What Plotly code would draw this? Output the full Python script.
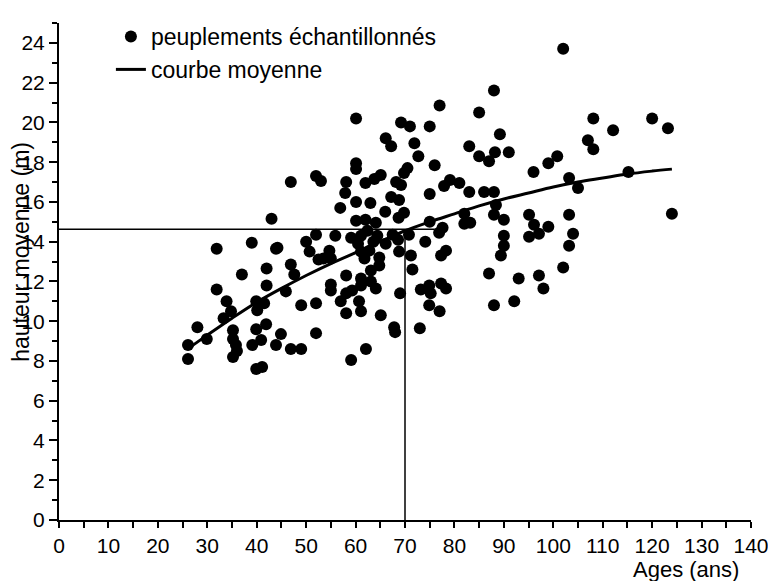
import plotly.graph_objects as go

# sampled stands: age (years) and mean height (m)
ages = [
    26.1, 26.1, 28.0, 29.9, 31.9, 31.9, 33.9, 33.3, 34.8, 35.2, 35.2, 35.8, 36.0, 35.2, 37.0,
    39.0, 39.1, 39.9, 40.1, 39.9, 39.9, 41.1, 41.5, 41.9, 40.9, 42.0, 42.0, 43.0, 43.9, 43.9,
    44.9, 45.9, 46.9, 47.6, 49.0, 52.0, 52.0, 46.9, 49.0, 46.9,
    44.2, 50.0, 50.7, 52.0, 52.5, 53.5, 54.7, 55.0, 55.9, 52.0, 53.0, 55.0, 55.0, 56.9,
    58.1, 61.1, 63.1, 61.8, 64.8, 64.8, 63.1, 64.1, 58.1, 57.0, 58.1, 60.7, 61.1, 59.3,
    65.1, 67.8, 68.0, 69.0, 59.1, 62.1, 71.2, 71.5, 61.1,
    60.1, 69.2, 71.0, 66.1, 67.2, 71.9, 60.1, 60.1, 72.7, 70.5, 69.8, 58.1, 57.9, 62.0,
    63.8, 65.1, 68.2, 69.2, 67.2, 68.8, 60.1, 63.0, 66.0, 69.8, 68.7, 60.1, 62.0, 64.1,
    61.1, 62.4, 64.4,
    59.1, 60.5, 61.1, 62.8, 63.6, 66.1, 67.5, 68.6, 68.8,
    77.0, 75.0, 76.0, 77.9, 79.1, 81.0, 83.0, 86.0, 88.0, 75.0, 88.4, 88.0, 82.0, 83.2,
    82.0, 90.0, 95.1, 96.1, 99.0, 95.1, 97.1, 75.0, 77.6, 76.9, 70.8, 74.1, 90.0, 90.0,
    89.4, 77.3, 78.3,
    87.0, 93.0, 97.1, 98.0, 88.0, 92.1, 73.2, 74.9, 75.2, 77.3, 78.3, 74.9, 77.0, 73.0,
    88.0, 85.0, 89.2, 83.0, 85.0, 87.0, 88.2, 91.0, 100.8, 99.0, 96.0,
    102.0, 108.1, 112.1, 120.0, 123.2, 107.0, 108.1, 103.2, 105.0, 115.2, 124.0, 103.2,
    104.0, 103.2, 102.0,
]
heights = [
    8.8, 8.1, 9.7, 9.1, 13.65, 11.6, 11.0, 10.15, 10.5, 9.55, 9.1, 8.8, 8.5, 8.2, 12.35,
    13.95, 8.8, 11.0, 10.55, 9.6, 7.6, 7.7, 10.9, 9.85, 9.05, 12.65, 11.8, 15.15, 13.65, 8.8,
    9.35, 11.5, 12.85, 12.35, 10.8, 10.9, 9.4, 8.6, 8.6, 17.0,
    13.7, 14.0, 13.5, 14.35, 13.1, 13.15, 13.55, 13.15, 14.3, 17.3, 17.05, 11.85, 11.55, 15.7,
    12.3, 12.15, 12.55, 13.15, 13.2, 12.8, 12.0, 11.65, 11.4, 11.0, 10.4, 11.0, 10.5, 11.55,
    10.3, 9.7, 9.45, 11.4, 8.05, 8.6, 13.3, 12.6, 11.8,
    20.2, 20.0, 19.8, 19.2, 18.8, 18.95, 17.95, 17.65, 18.3, 17.7, 17.45, 17.0, 16.45, 16.95,
    17.15, 17.35, 17.0, 16.85, 16.25, 16.1, 16.0, 15.95, 15.5, 15.45, 15.2, 15.05, 15.1, 14.95,
    14.3, 14.55, 14.3,
    14.2, 13.9, 13.5, 13.55, 14.0, 13.9, 14.35, 14.1, 13.5,
    20.85, 19.8, 17.85, 16.8, 17.1, 16.95, 16.5, 16.5, 16.5, 16.4, 15.85, 15.35, 15.4, 14.95,
    14.9, 15.1, 15.35, 14.85, 14.75, 14.25, 14.4, 15.0, 14.7, 14.45, 14.35, 14.0, 14.3, 13.8,
    13.3, 13.3, 13.55,
    12.4, 12.15, 12.3, 11.65, 10.8, 11.0, 11.6, 11.8, 11.4, 11.9, 11.65, 10.8, 10.5, 9.65,
    21.6, 20.5, 19.4, 18.8, 18.3, 18.05, 18.5, 18.5, 18.3, 17.95, 17.5,
    23.7, 20.2, 19.6, 20.2, 19.7, 19.1, 18.65, 17.2, 16.7, 17.5, 15.4, 15.35,
    14.4, 13.8, 12.7,
]

# mean curve
curve_ages = [26, 30, 35, 40, 45, 50, 55, 60, 65, 70, 75, 80, 85, 90, 95, 100, 105, 110, 115, 120, 124]
curve_heights = [8.6, 9.3, 10.15, 10.95, 11.65, 12.3, 12.9, 13.45, 14.0, 14.55, 15.0, 15.4,
                 15.8, 16.15, 16.45, 16.75, 17.0, 17.2, 17.4, 17.55, 17.65]

# reading lines
ref_age = 70
ref_height = 14.62
ref_line_end = 76

FONT = "Liberation Sans, Arial, sans-serif"

fig = go.Figure()
fig.add_trace(go.Scatter(
    x=ages, y=heights, mode="markers", name="peuplements échantillonnés",
    marker=dict(color="black", size=12, line=dict(width=0)),
))
fig.add_trace(go.Scatter(
    x=curve_ages, y=curve_heights, mode="lines", name="courbe moyenne",
    line=dict(color="black", width=3, shape="spline"),
))
fig.add_trace(go.Scatter(
    x=[0, ref_line_end], y=[ref_height, ref_height], mode="lines", showlegend=False,
    line=dict(color="black", width=1.5), hoverinfo="skip",
))
fig.add_trace(go.Scatter(
    x=[ref_age, ref_age], y=[0, ref_height], mode="lines", showlegend=False,
    line=dict(color="black", width=1.5), hoverinfo="skip",
))

axis_common = dict(
    showgrid=False, zeroline=False, showline=True, linecolor="black", linewidth=2,
    ticks="outside", tickwidth=2, tickcolor="black",
    tickfont=dict(family=FONT, size=21, color="black"),
)
fig.update_xaxes(range=[0, 140], dtick=10, tick0=0, ticklen=6,
                 minor=dict(dtick=5, ticks="outside", ticklen=6, tickwidth=2, tickcolor="black", showgrid=False),
                 **axis_common)
fig.update_yaxes(range=[0, 25], dtick=2, tick0=0, ticklen=8,
                 minor=dict(dtick=1, ticks="outside", ticklen=5, tickwidth=2, tickcolor="black", showgrid=False),
                 **axis_common)

fig.add_annotation(text="Ages (ans)", xref="paper", yref="paper", x=0.906, y=-0.1,
                   xanchor="center", yanchor="middle", showarrow=False,
                   font=dict(family=FONT, size=22, color="black"))
fig.add_annotation(text="hauteur moyenne (m)", xref="paper", yref="paper", x=-0.056, y=0.54,
                   xanchor="center", yanchor="middle", textangle=-90, showarrow=False,
                   font=dict(family=FONT, size=23, color="black"))

fig.update_layout(
    width=768, height=573,
    margin=dict(l=51, r=23, t=7, b=61),
    paper_bgcolor="white", plot_bgcolor="white",
    showlegend=True,
    legend=dict(x=0.075, y=1.016, xanchor="left", yanchor="top", bgcolor="rgba(0,0,0,0)",
                font=dict(family=FONT, size=23, color="black"), tracegroupgap=0),
)

fig.write_html("out.html")
